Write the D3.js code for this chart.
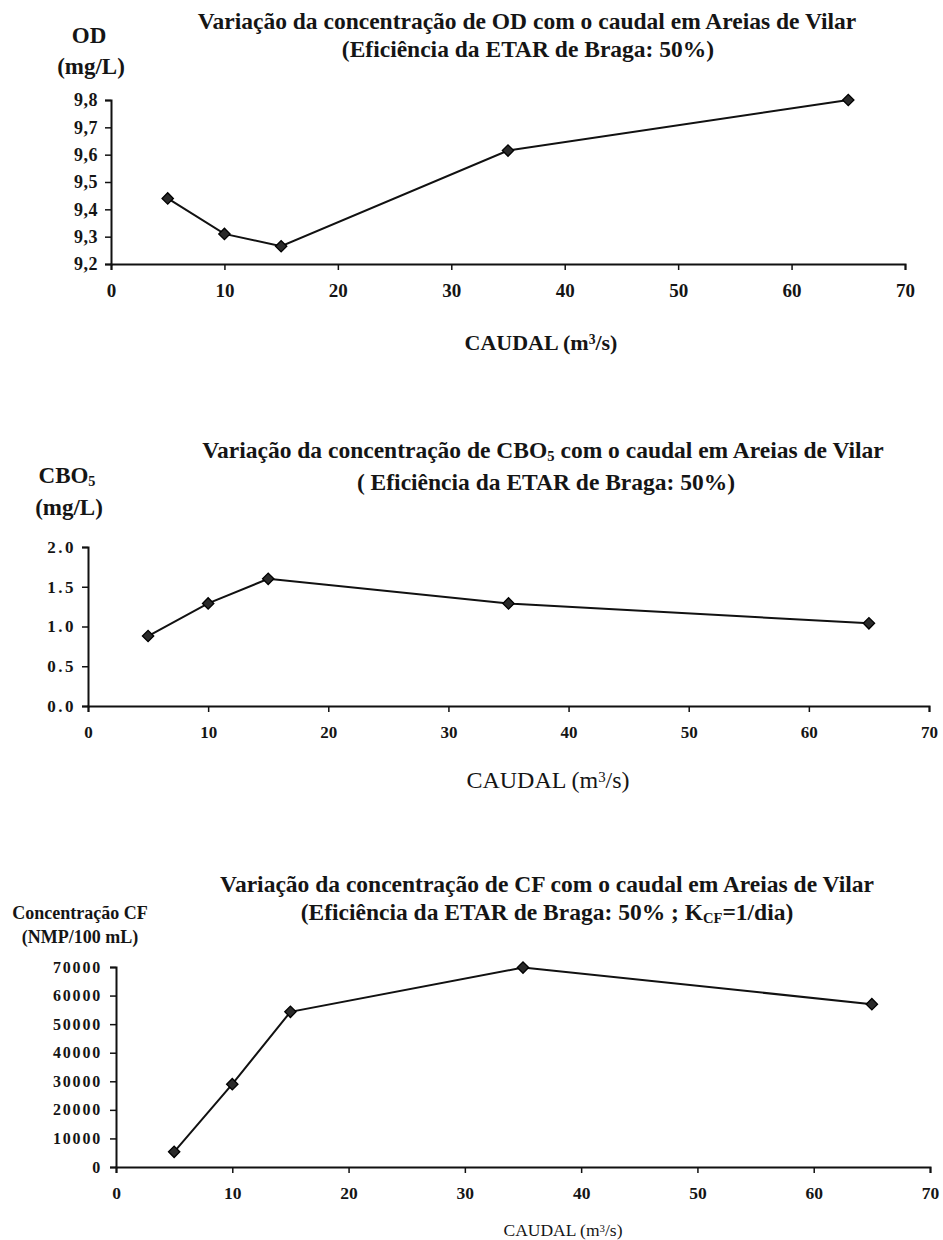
<!DOCTYPE html>
<html>
<head>
<meta charset="utf-8">
<script src="https://cdn.jsdelivr.net/npm/d3@7"></script>
<style>
  body { margin: 0; background: #fff; }
  svg { display: block; font-family: "Liberation Serif", "Times New Roman", serif; }
  text { fill: #151515; }
</style>
</head>
<body>
<div id="chart"></div>
<script>
// caudal (m3/s) shared by all three plots
const caudal = [5, 10, 15, 35, 65];
const odValues = [9.44, 9.31, 9.265, 9.615, 9.8];
const cboValues = [0.88, 1.29, 1.6, 1.29, 1.04];
const cfValues = [5300, 29000, 54300, 69800, 57000];

const xTicks = [0, 10, 20, 30, 40, 50, 60, 70];
const odTicks = [9.2, 9.3, 9.4, 9.5, 9.6, 9.7, 9.8];
const cboTicks = [0, 0.5, 1, 1.5, 2];
const cfTicks = [0, 10000, 20000, 30000, 40000, 50000, 60000, 70000];

const W = 943, H = 1240;
const serif = '"Liberation Serif", "Times New Roman", serif';
const svg = d3.select('#chart').append('svg').attr('width', W).attr('height', H);

function drawChart(c) {
    const x = d3.scaleLinear().domain([0, 70]).range([c.left, c.right]);
    const y = d3.scaleLinear().domain(c.yDomain).range([c.bottom, c.top]);
    const g = svg.append('g');

    const xAxis = g.append('g')
        .attr('transform', `translate(0,${c.bottom})`)
        .call(d3.axisBottom(x).tickValues(xTicks).tickSize(6).tickPadding(c.xPad));
    xAxis.attr('font-family', null).attr('font-size', null);
    xAxis.select('.domain').attr('stroke', '#111').attr('stroke-width', 2);
    xAxis.selectAll('.tick line').attr('stroke', '#111').attr('stroke-width', 1.5);
    xAxis.selectAll('.tick text')
        .style('font-family', serif).style('font-size', c.xFont + 'px')
        .style('font-weight', 'bold').style('fill', '#151515');

    const yAxis = g.append('g')
        .attr('transform', `translate(${c.left},0)`)
        .call(d3.axisLeft(y).tickValues(c.yTicks).tickFormat(c.yFormat).tickSize(6).tickPadding(c.yPad));
    yAxis.attr('font-family', null).attr('font-size', null);
    yAxis.select('.domain').attr('stroke', '#111').attr('stroke-width', 2);
    yAxis.selectAll('.tick line').attr('stroke', '#111').attr('stroke-width', 1.5);
    yAxis.selectAll('.tick text')
        .style('font-family', serif).style('font-size', c.yFont + 'px')
        .style('font-weight', 'bold').style('letter-spacing', (c.yLetter || 0) + 'px')
        .style('fill', '#151515');

    const pts = caudal.map((q, i) => [q, c.values[i]]);
    g.append('path')
        .datum(pts)
        .attr('fill', 'none')
        .attr('stroke', '#111')
        .attr('stroke-width', 2)
        .attr('d', d3.line().x(d => x(d[0])).y(d => y(d[1])));

    g.selectAll('.pt')
        .data(pts)
        .enter()
        .append('path')
        .attr('class', 'pt')
        .attr('transform', d => `translate(${x(d[0])},${y(d[1])}) rotate(45)`)
        .attr('d', 'M-4,-4H4V4H-4Z')
        .attr('fill', '#2a2a2a')
        .attr('stroke', '#000')
        .attr('stroke-width', 1.3);

    return g;
}

function addText(g, x, y, size, weight, parts) {
    const t = g.append('text')
        .attr('x', x).attr('y', y)
        .attr('text-anchor', 'middle')
        .style('font-family', serif)
        .style('font-size', size + 'px')
        .style('font-weight', weight);
    parts.forEach(p => {
        if (typeof p === 'string') {
            t.append('tspan').text(p);
        } else {
            t.append('tspan')
                .style('font-size', (size * 0.62) + 'px')
                .attr('baseline-shift', p.sub ? '-18%' : '40%')
                .text(p.t);
        }
    });
    return t;
}

// --- OD ---
const g1 = drawChart({
    left: 111, right: 905, top: 100, bottom: 264,
    yDomain: [9.2, 9.8], yTicks: odTicks, yFormat: d => d3.format('.1f')(d).replace('.', ','),
    values: odValues, xFont: 19, yFont: 18, yLetter: 0.5, xPad: 14, yPad: 7
});
addText(g1, 527, 29, 23.5, 'bold', ['Variação da concentração de OD com o caudal em Areias de Vilar']);
addText(g1, 528, 57, 23.5, 'bold', ['(Eficiência da ETAR de Braga: 50%)']);
addText(g1, 89, 43, 23, 'bold', ['OD']);
addText(g1, 91, 74, 23, 'bold', ['(mg/L)']);
addText(g1, 541, 350, 22, 'bold', ['CAUDAL (m', { t: '3' }, '/s)']);

// --- CBO5 ---
const g2 = drawChart({
    left: 88, right: 929, top: 547, bottom: 706,
    yDomain: [0, 2], yTicks: cboTicks, yFormat: d3.format('.1f'),
    values: cboValues, xFont: 17, yFont: 17, yLetter: 2.5, xPad: 14, yPad: 6
});
addText(g2, 543, 458, 23.5, 'bold', ['Variação da concentração de CBO', { t: '5', sub: true }, ' com o caudal em Areias de Vilar']);
addText(g2, 546, 490, 23.5, 'bold', ['( Eficiência da ETAR de Braga: 50%)']);
addText(g2, 67, 483, 23, 'bold', ['CBO', { t: '5', sub: true }]);
addText(g2, 69, 515, 23, 'bold', ['(mg/L)']);
addText(g2, 548, 788, 24, 'normal', ['CAUDAL (m', { t: '3' }, '/s)']);

// --- CF ---
const g3 = drawChart({
    left: 116, right: 930, top: 967, bottom: 1167,
    yDomain: [0, 70000], yTicks: cfTicks, yFormat: d3.format('d'),
    values: cfValues, xFont: 17.5, yFont: 16, yLetter: 1.8, xPad: 14, yPad: 8
});
addText(g3, 547, 892, 23.5, 'bold', ['Variação da concentração de CF com o caudal em Areias de Vilar']);
addText(g3, 547, 920, 23.5, 'bold', ['(Eficiência da ETAR de Braga: 50% ; K', { t: 'CF', sub: true }, '=1/dia)']);
addText(g3, 80, 919, 18, 'bold', ['Concentração CF']);
addText(g3, 80, 943, 18, 'bold', ['(NMP/100 mL)']);
addText(g3, 563, 1236, 17.5, 'normal', ['CAUDAL (m', { t: '3' }, '/s)']);
</script>
</body>
</html>
